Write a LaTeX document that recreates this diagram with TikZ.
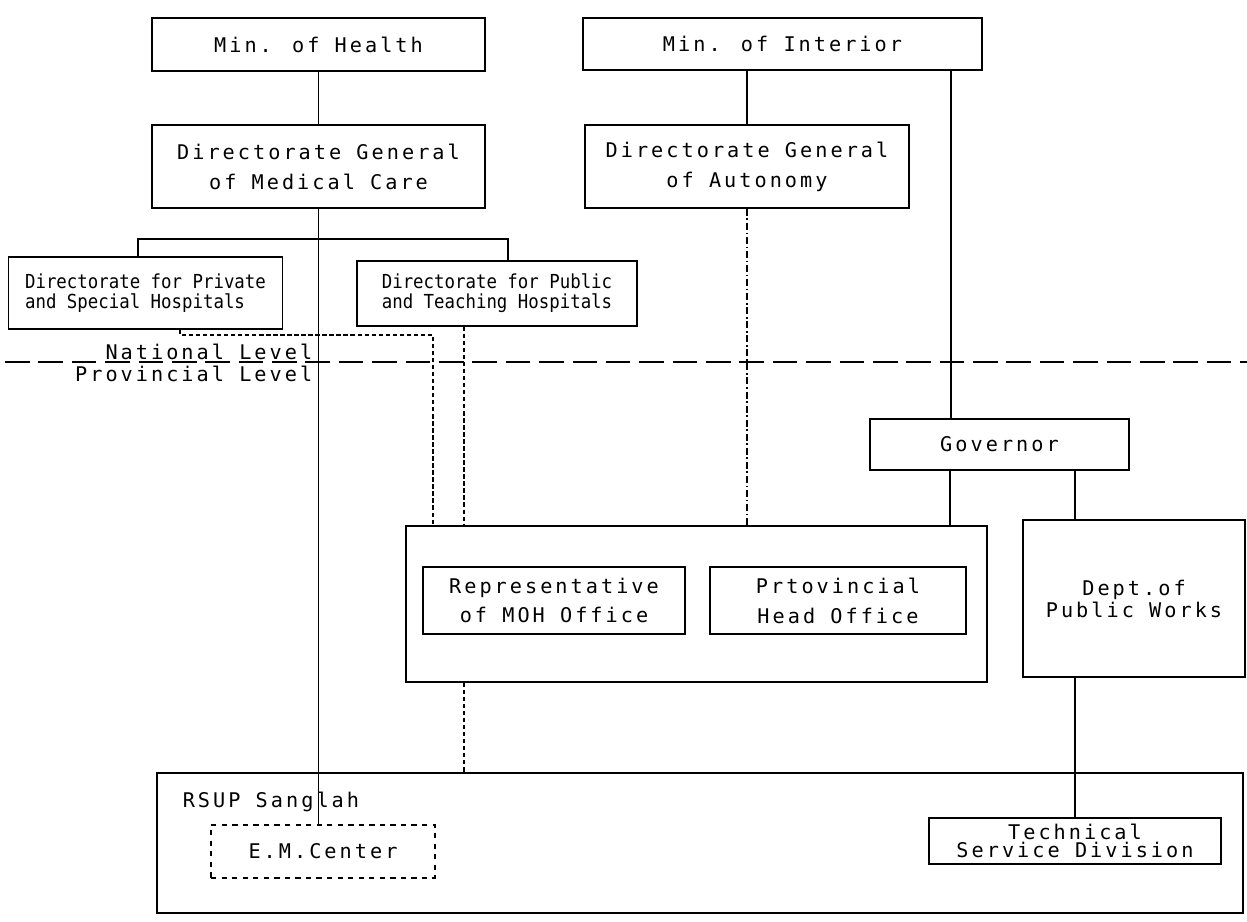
\documentclass[tikz,border=0pt]{standalone}
\usepackage{fontspec}
\newfontfamily\typefont[LetterSpace=15]{DejaVu Sans Mono}
\newfontfamily\narrowfont[FakeStretch=0.9]{DejaVu Sans Mono}
\begin{document}
\begin{tikzpicture}[x=0.02cm, y=-0.02cm, line width=0.9pt,
        box/.style={draw, inner sep=0pt, align=center, font=\typefont\fontsize{11.5}{17}\selectfont},
        smallbox/.style={draw, inner sep=0pt, align=left, font=\narrowfont\fontsize{11}{11.3}\selectfont},
        lvl/.style={inner sep=0pt, font=\typefont\fontsize{11.5}{17}\selectfont},
        dashln/.style={dash pattern=on 2.5pt off 1.5pt},
        dashdotln/.style={dash pattern=on 4pt off 1.5pt on 1pt off 1.5pt},
        levelln/.style={dash pattern=on 14pt off 5pt}]
    \useasboundingbox (0, 0) rectangle (1247, 922);

    % national level
    \node[box, minimum width=6.66cm, minimum height=1.06cm] (health) at (318.5, 44.5) {Min. of Health};
    \node[box, minimum width=6.66cm, minimum height=1.66cm] (dgmed) at (318.5, 166.5) {Directorate General\\of Medical Care};
    \node[box, minimum width=7.98cm, minimum height=1.04cm] (interior) at (782.5, 44) {Min. of Interior};
    \node[box, minimum width=6.48cm, minimum height=1.66cm] (dgauto) at (747, 166.5) {Directorate General\\of Autonomy};
    \node[smallbox, minimum width=5.48cm, minimum height=1.44cm] (private) at (145.5, 293) {Directorate for Private\\and Special Hospitals};
    \node[smallbox, minimum width=5.6cm, minimum height=1.3cm] (public) at (497, 293.5) {Directorate for Public\\and Teaching Hospitals};

    \node[lvl, anchor=base east] (natl) at (313, 359) {National Level};
    \node[lvl, anchor=base east] (provl) at (313, 381) {Provincial Level};
    \draw[levelln] (5, 362) -- (1247, 362);

    % provincial level
    \node[box, minimum width=5.18cm, minimum height=1.02cm] (governor) at (999.5, 444.5) {Governor};
    \node[draw, minimum width=11.62cm, minimum height=3.12cm] (prov) at (696.5, 604) {};
    \node[box, minimum width=5.24cm, minimum height=1.34cm] (rep) at (554, 600.5) {Representative\\of MOH Office};
    \node[box, minimum width=5.12cm, minimum height=1.34cm] (head) at (838, 600.5) {Prtovincial\\Head Office};
    \node[box, minimum width=4.44cm, minimum height=3.14cm, font=\typefont\fontsize{11.5}{12.5}\selectfont] (dept) at (1134, 598.5) {Dept.of\\Public Works};

    \node[draw, minimum width=21.72cm, minimum height=2.8cm] (rsup) at (700, 843) {};
    \node[lvl, anchor=west] (rsuplbl) at (182, 802) {RSUP Sanglah};
    \node[box, dashed, minimum width=4.48cm, minimum height=1.06cm] (emc) at (323, 851.5) {E.M.Center};
    \node[box, minimum width=5.84cm, minimum height=0.92cm, font=\typefont\fontsize{11.5}{10.5}\selectfont] (tech) at (1075, 841) {Technical\\Service Division};

    % ministry of health
    \draw (health.south) -- (dgmed.north);
    \draw (dgmed.south) -- (dgmed.south |- emc.north);
    \coordinate (brL) at (138, 239);
    \coordinate (brR) at (508, 239);
    \draw (brL |- private.north) -- (brL) -- (brR) -- (brR |- public.north);

    \coordinate (pvt) at (180, 335);
    \coordinate (dA) at (433, 335);
    \coordinate (dB) at (464, 0);
    \draw[dashln] (pvt |- private.south) -- (pvt) -- (dA) -- (dA |- prov.north);
    \draw[dashln] (dB |- public.south) -- (dB |- prov.north);
    \draw[dashln] (dB |- prov.south) -- (dB |- rsup.north);

    % ministry of interior
    \coordinate (gA) at (951, 0);
    \coordinate (gB) at (950, 0);
    \draw (dgauto.north |- interior.south) -- (dgauto.north);
    \draw[dashdotln] (dgauto.south) -- (dgauto.south |- prov.north);
    \draw (gA |- interior.south) -- (gA |- governor.north);
    \draw (gB |- governor.south) -- (gB |- prov.north);
    \draw (tech.north |- governor.south) -- (tech.north |- dept.north);
    \draw (tech.north |- dept.south) -- (tech.north);
\end{tikzpicture}
\end{document}
